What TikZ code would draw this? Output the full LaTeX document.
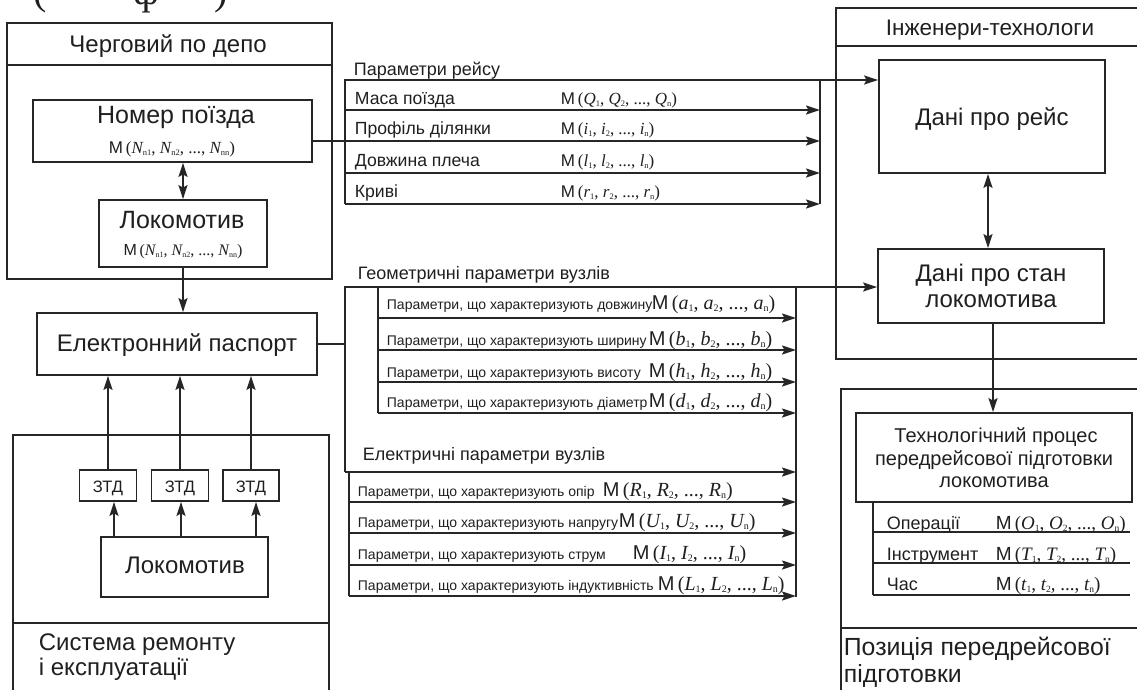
\documentclass[tikz,border=0pt]{standalone}
\usepackage{fontspec}
\setmainfont{Liberation Sans}
\newfontfamily\tms{Liberation Serif}
\usepackage{graphicx}
\usetikzlibrary{arrows.meta,calc}
\newcommand\vv[2]{{\tms\itshape #1}\raisebox{-0.3ex}{\scalebox{0.5}{#2}}}
\newcommand\mf[1]{M\,{\tms(#1)}}
\newcommand\fs[1]{\fontsize{#1}{#1}\selectfont}
\begin{document}
\begin{tikzpicture}[x=1pt,y=-1pt,line width=1.8pt,
  box/.style={draw=black!85,line width=1.8pt,inner sep=0pt,rectangle},
  arr/.style={draw=black!85,-{Stealth[length=14pt,width=9pt,inset=2.5pt]}},
  darr/.style={draw=black!85,{Stealth[length=14pt,width=9pt,inset=2.5pt]}-{Stealth[length=14pt,width=9pt,inset=2.5pt]}},
  ln/.style={draw=black!85},
  lbl/.style={inner sep=0pt,anchor=mid west,text=black!88,yshift=-4.5pt},
  ctr/.style={inner sep=0pt,anchor=mid,text=black!88,yshift=-4.5pt},
  cut/.style={inner sep=0pt,anchor=base,font=\tms\fs{40},text=black!88}]
\useasboundingbox (0,0) rectangle (1137,689);
% clipped residue of text above
\node[cut] (c1) at (40,4) {(};
\node[cut] (c2) at (146,4) {ф};
\node[cut] (c3) at (221,4) {)};
% ---------- boxes ----------
\node[box,minimum width=325pt,minimum height=256pt] (depo) at (169.5,151) {};
\node[box,minimum width=279pt,minimum height=62pt] (nomer) at (172.5,131) {};
\node[box,minimum width=168pt,minimum height=67pt] (loco1) at (183,233.5) {};
\node[box,minimum width=280pt,minimum height=62pt] (pass) at (177,344) {};
\node[box,minimum width=316pt,minimum height=265pt] (sys) at (171,567.5) {};
\node[box,minimum width=57pt,minimum height=31pt] (ztd1) at (108,485.5) {};
\node[box,minimum width=57pt,minimum height=31pt] (ztd2) at (180,485.5) {};
\node[box,minimum width=56pt,minimum height=31pt] (ztd3) at (251,485.5) {};
\node[box,minimum width=167pt,minimum height=60pt] (loco2) at (184.5,567) {};
\node[box,minimum width=324pt,minimum height=351pt] (eng) at (998,183.5) {};
\node[box,minimum width=226pt,minimum height=113pt] (rejs) at (992,116.5) {};
\node[box,minimum width=226pt,minimum height=74pt] (stan) at (991,286) {};
\node[box,minimum width=319pt,minimum height=311pt] (pos) at (1000.5,544.5) {};
\node[box,minimum width=276pt,minimum height=89pt] (tech) at (994,457.5) {};
% separators
\coordinate (hDepo) at (0,65);
\coordinate (hSys) at (0,623);
\coordinate (hEng) at (0,46);
\coordinate (hPos) at (0,628);
\draw[ln] (depo.west |- hDepo) -- (depo.east |- hDepo);
\draw[ln] (sys.west |- hSys) -- (sys.east |- hSys);
\draw[ln] (eng.west |- hEng) -- (eng.east |- hEng);
\draw[ln] (pos.west |- hPos) -- (pos.east |- hPos);
% ---------- texts in boxes ----------
\node[ctr,font=\fs{24}] (tDepo) at (168,45) {Черговий по депо};
\node[ctr,font=\fs{25}] (tNom) at (176,116) {Номер поїзда};
\node[ctr,font=\fs{17}] (fNom) at (172,146) {\mf{\vv{N}{n1}, \vv{N}{n2}, ..., \vv{N}{nn}}};
\node[ctr,font=\fs{25}] (tLoc1) at (182,221) {Локомотив};
\node[ctr,font=\fs{16}] (fLoc1) at (183,248) {\mf{\vv{N}{n1}, \vv{N}{n2}, ..., \vv{N}{nn}}};
\node[ctr,font=\fs{24}] (tPass) at (177,344) {Електронний паспорт};
\node[ctr,font=\fs{16.5}] at (ztd1) {ЗТД};
\node[ctr,font=\fs{16.5}] at (ztd2) {ЗТД};
\node[ctr,font=\fs{16.5}] at (ztd3) {ЗТД};
\node[ctr,font=\fs{24}] (tLoc2) at (185,566) {Локомотив};
\node[lbl,font=\fs{24}] (tSys1) at (38,643) {Система ремонту};
\node[lbl,font=\fs{24}] (tSys2) at (38,668) {і експлуатації};
\node[ctr,font=\fs{22.5}] (tEng) at (990,28) {Інженери-технологи};
\node[ctr,font=\fs{24}] (tRejs) at (992,118) {Дані про рейс};
\node[ctr,font=\fs{24}] (tStan1) at (991,274) {Дані про стан};
\node[ctr,font=\fs{24}] (tStan2) at (991,300) {локомотива};
\node[ctr,font=\fs{20}] (tTech1) at (996,435) {Технологічний процес};
\node[ctr,font=\fs{20}] (tTech2) at (994,458) {передрейсової підготовки};
\node[ctr,font=\fs{20}] (tTech3) at (994,480) {локомотива};
\node[lbl,font=\fs{24.8}] (tPos1) at (843,648) {Позиція передрейсової};
\node[lbl,font=\fs{24.8}] (tPos2) at (843,675) {підготовки};
% ---------- left connectors ----------
\draw[darr] (loco1.north |- nomer.south) -- (loco1.north);
\draw[arr] (loco1.south) -- (loco1.south |- pass.north);
\draw[arr] (ztd1.north) -- (ztd1.north |- pass.south);
\draw[arr] (ztd2.north) -- (ztd2.north |- pass.south);
\draw[arr] (ztd3.north) -- (ztd3.north |- pass.south);
\draw[arr] ([xshift=6pt]ztd1.south |- loco2.north) -- ([xshift=6pt]ztd1.south);
\draw[arr] ([xshift=1pt]ztd2.south |- loco2.north) -- ([xshift=1pt]ztd2.south);
\draw[arr] ([xshift=5pt]ztd3.south |- loco2.north) -- ([xshift=5pt]ztd3.south);
% ---------- trip parameters bus ----------
\coordinate (tTL) at (345,80);
\coordinate (tTR) at (820,80);
\foreach \n/\y in {1/110,2/141,3/173,4/204}{
  \coordinate (tl\n) at (345,\y);
  \coordinate (tr\n) at (820,\y);
}
\draw[arr] (tl4) -- (tTL) -- (tTL -| rejs.west);
\draw[ln] (tTR) -- (tr4);
\draw[arr] (tl1) -- (tr1);
\draw[arr] (nomer.east |- tr2) -- (tr2);
\draw[arr] (tl3) -- (tr3);
\draw[arr] (tl4) -- (tr4);
\node[lbl,font=\fs{18}] (tTrip) at (353,68) {Параметри рейсу};
\node[lbl,font=\fs{17.6}] (r1) at (354,97) {Маса поїзда};
\node[lbl,font=\fs{17.6}] (r2) at (354,127) {Профіль ділянки};
\node[lbl,font=\fs{17.6}] (r3) at (354,159) {Довжина плеча};
\node[lbl,font=\fs{17.6}] (r4) at (354,190) {Криві};
\node[lbl,font=\fs{17}] (fr1) at (560,97) {\mf{\vv{Q}{1}, \vv{Q}{2}, ..., \vv{Q}{n}}};
\node[lbl,font=\fs{17}] (fr2) at (560,127) {\mf{\vv{i}{1}, \vv{i}{2}, ..., \vv{i}{n}}};
\node[lbl,font=\fs{17}] (fr3) at (560,159) {\mf{\vv{l}{1}, \vv{l}{2}, ..., \vv{l}{n}}};
\node[lbl,font=\fs{17}] (fr4) at (560,190) {\mf{\vv{r}{1}, \vv{r}{2}, ..., \vv{r}{n}}};
% ---------- geometric / electric bus ----------
\coordinate (gTL) at (345,287);
\coordinate (gTR) at (796,287);
\coordinate (gBR) at (796,597);
\coordinate (gEL) at (345,472);
\coordinate (gER) at (796,472);
\coordinate (gIT) at (378,287);
\coordinate (eT) at (349,472);
\foreach \n/\y in {1/318,2/350,3/382,4/413}{
  \coordinate (gl\n) at (378,\y);
  \coordinate (gr\n) at (796,\y);
}
\foreach \n/\y in {1/502,2/533,3/565,4/596}{
  \coordinate (el\n) at (349,\y);
  \coordinate (er\n) at (796,\y);
}
\draw[ln] (pass.east) -- (pass.east -| gTL);
\draw[arr] (gEL) -- (gTL) -- (gTL -| stan.west);
\draw[ln] (gTR) -- (gBR);
\draw[ln] (gIT) -- (gl4);
\draw[ln] (eT) -- (el4);
\draw[arr] (gEL) -- (gER);
\foreach \n in {1,2,3,4}{
  \draw[arr] (gl\n) -- (gr\n);
  \draw[arr] (el\n) -- (er\n);
}
\node[lbl,font=\fs{18}] (tGeo) at (357,272) {Геометричні параметри вузлів};
\node[lbl,font=\fs{14}] (g1) at (386,302) {Параметри, що характеризують довжину};
\node[lbl,font=\fs{14}] (g2) at (386,338) {Параметри, що характеризують ширину};
\node[lbl,font=\fs{14}] (g3) at (386,370) {Параметри, що характеризують висоту};
\node[lbl,font=\fs{14}] (g4) at (386,400) {Параметри, що характеризують діаметр};
\node[lbl,font=\fs{20}] (fg1) at (651,302) {\mf{\vv{a}{1}, \vv{a}{2}, ..., \vv{a}{n}}};
\node[lbl,font=\fs{20}] (fg2) at (648,338) {\mf{\vv{b}{1}, \vv{b}{2}, ..., \vv{b}{n}}};
\node[lbl,font=\fs{20}] (fg3) at (648,370) {\mf{\vv{h}{1}, \vv{h}{2}, ..., \vv{h}{n}}};
\node[lbl,font=\fs{20}] (fg4) at (648,400) {\mf{\vv{d}{1}, \vv{d}{2}, ..., \vv{d}{n}}};
\node[lbl,font=\fs{18}] (tEl) at (362,453) {Електричні параметри вузлів};
\node[lbl,font=\fs{14}] (e1) at (357,489) {Параметри, що характеризують опір};
\node[lbl,font=\fs{14}] (e2) at (357,520) {Параметри, що характеризують напругу};
\node[lbl,font=\fs{14}] (e3) at (357,552) {Параметри, що характеризують струм};
\node[lbl,font=\fs{14}] (e4) at (357,583) {Параметри, що характеризують індуктивність};
\node[lbl,font=\fs{20}] (fe1) at (602,489) {\mf{\vv{R}{1}, \vv{R}{2}, ..., \vv{R}{n}}};
\node[lbl,font=\fs{20}] (fe2) at (618,520) {\mf{\vv{U}{1}, \vv{U}{2}, ..., \vv{U}{n}}};
\node[lbl,font=\fs{20}] (fe3) at (632,552) {\mf{\vv{I}{1}, \vv{I}{2}, ..., \vv{I}{n}}};
\node[lbl,font=\fs{20}] (fe4) at (657,583) {\mf{\vv{L}{1}, \vv{L}{2}, ..., \vv{L}{n}}};
% ---------- right side ----------
\draw[darr] ([xshift=-4pt]rejs.south) -- ([xshift=-4pt]rejs.south |- stan.north);
\draw[arr] ([xshift=2pt]stan.south) -- ([xshift=2pt]stan.south |- tech.north);
\coordinate (s0) at (873,502);
\foreach \n/\y in {1/532,2/563,3/595}{
  \coordinate (sl\n) at (873,\y);
  \coordinate (sr\n) at (1130,\y);
  \draw[ln] (sl\n) -- (sr\n);
}
\draw[ln] (s0) -- (sl3);
\node[lbl,font=\fs{18}] (o1) at (886,522) {Операції};
\node[lbl,font=\fs{18}] (o2) at (886,553) {Інструмент};
\node[lbl,font=\fs{18}] (o3) at (886,583) {Час};
\node[lbl,font=\fs{19}] (fo1) at (995,522) {\mf{\vv{O}{1}, \vv{O}{2}, ..., \vv{O}{n}}};
\node[lbl,font=\fs{19}] (fo2) at (995,553) {\mf{\vv{T}{1}, \vv{T}{2}, ..., \vv{T}{n}}};
\node[lbl,font=\fs{19}] (fo3) at (995,583) {\mf{\vv{t}{1}, \vv{t}{2}, ..., \vv{t}{n}}};
\end{tikzpicture}
\end{document}
